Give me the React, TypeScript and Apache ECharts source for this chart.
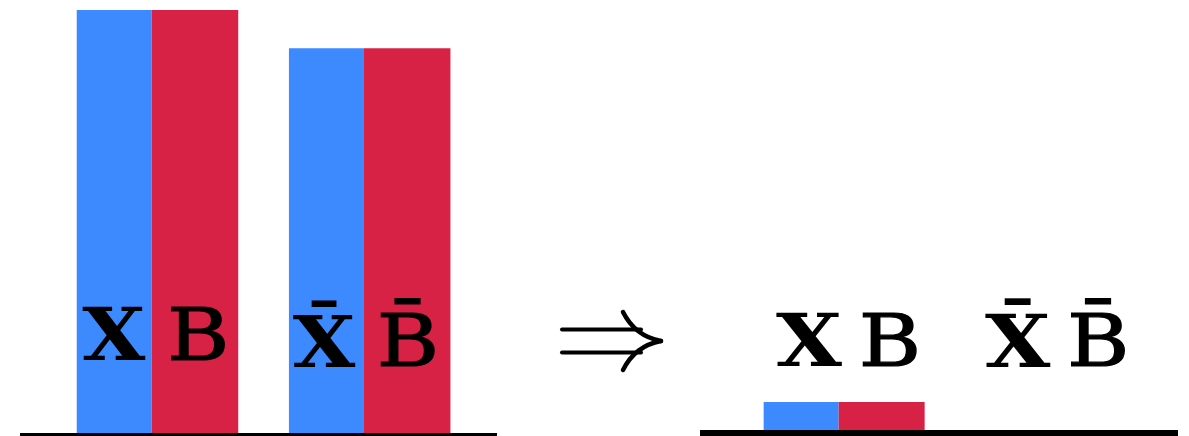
import React, { useEffect, useRef } from "react";
import * as echarts from "echarts";

// Group positions on the x value axis
const groupPositions = [0, 1];
// Before: X / X̄ (blue) and B / B̄ (red)
const beforeX = [1.0, 0.91];
const beforeB = [1.0, 0.91];
// After: only the X·B group keeps mass
const afterX = [0.073, 0];
const afterB = [0.073, 0];

const labelsBefore = ["X", "B", "X\u0304", "B\u0304"];
const labelsAfter = ["X", "B", "X\u0304", "B\u0304"];

const BLUE = "#3D89FF";
const RED = "#D82245";
const FONT = "DejaVu Serif";

const pairs = (vals: number[]) => groupPositions.map((p, i) => [p, vals[i]]);

export default function App() {
  const ref = useRef<HTMLDivElement>(null);

  useEffect(() => {
    if (!ref.current) return;
    const chart = echarts.init(ref.current, undefined, { renderer: "svg" });

    const hiddenY = { type: "value" as const, min: 0, max: 1, show: false };
    const xBase = (grid: number, min: number, max: number, lw: number) => ({
      type: "value" as const,
      gridIndex: grid,
      min,
      max,
      z: 10,
      axisLine: {
        show: true,
        onZero: false,
        lineStyle: { color: "#000", width: lw, cap: "butt" },
      },
      axisTick: { show: false },
      axisLabel: { show: false },
      splitLine: { show: false },
    });

    const bar = (name: string, grid: number, vals: number[], color: string, width: number) => ({
      type: "bar" as const,
      name,
      xAxisIndex: grid,
      yAxisIndex: grid,
      data: pairs(vals),
      barWidth: width,
      barGap: "0%",
      itemStyle: { color },
    });

    // X labels use the bold face; B labels the regular face with a slight outline
    const txt = (s: string, x: number, y: number, weight: string, sx: number) => ({
      type: "text" as const,
      x,
      y,
      scaleX: sx,
      style: {
        text: s,
        fontFamily: FONT,
        fontWeight: weight,
        fontSize: 72,
        fill: "#000",
        stroke: weight === "bold" ? "none" : "#000",
        lineWidth: weight === "bold" ? 0 : 1.2,
        align: "center",
        verticalAlign: "middle",
      },
      z: 20,
    });

    // double-stroke implication arrow between the two panels
    const arrowStroke = { stroke: "#000", lineWidth: 4, lineCap: "round", fill: "none" };
    const arrow = {
      type: "group",
      z: 20,
      children: [
        { type: "line", shape: { x1: 562, y1: 329.5, x2: 641, y2: 329.5 }, style: arrowStroke },
        { type: "line", shape: { x1: 562, y1: 352.5, x2: 641, y2: 352.5 }, style: arrowStroke },
        {
          type: "bezierCurve",
          shape: { x1: 623, y1: 312, cpx1: 632, cpy1: 330, cpx2: 645, cpy2: 338, x2: 661, y2: 341 },
          style: { ...arrowStroke, lineWidth: 4.5 },
        },
        {
          type: "bezierCurve",
          shape: { x1: 623, y1: 370, cpx1: 632, cpy1: 352, cpx2: 645, cpy2: 344, x2: 661, y2: 341 },
          style: { ...arrowStroke, lineWidth: 4.5 },
        },
      ],
    };

    chart.setOption({
      animation: false,
      backgroundColor: "#fff",
      grid: [
        { left: 20, width: 477, top: 10, bottom: 1.5 },
        { left: 700, width: 478, top: 8.5, bottom: 3 },
      ],
      xAxis: [xBase(0, -0.648, 1.6, 3), xBase(1, -0.68, 1.575, 6)],
      yAxis: [
        { ...hiddenY, gridIndex: 0 },
        { ...hiddenY, gridIndex: 1 },
      ],
      series: [
        bar("X", 0, beforeX, BLUE, 75),
        bar("B", 0, beforeB, RED, 86.5),
        bar("X", 1, afterX, BLUE, 75),
        bar("B", 1, afterB, RED, 86),
      ],
      graphic: [
        txt(labelsBefore[0], 113.7, 335, "bold", 1.13),
        txt(labelsBefore[1], 198.3, 335, "normal", 1.18),
        txt(labelsBefore[2], 324, 341.5, "bold", 1.12),
        txt(labelsBefore[3], 408, 341.5, "normal", 1.18),
        txt(labelsAfter[0], 809, 341, "bold", 1.18),
        txt(labelsAfter[1], 890, 341, "normal", 1.18),
        txt(labelsAfter[2], 1017.7, 341, "bold", 1.17),
        txt(labelsAfter[3], 1098.3, 341, "normal", 1.18),
        arrow,
      ],
    });

    return () => chart.dispose();
  }, []);

  return (
    <div
      ref={ref}
      style={{ position: "fixed", left: 0, top: 0, width: 1189, height: 436 }}
    />
  );
}
